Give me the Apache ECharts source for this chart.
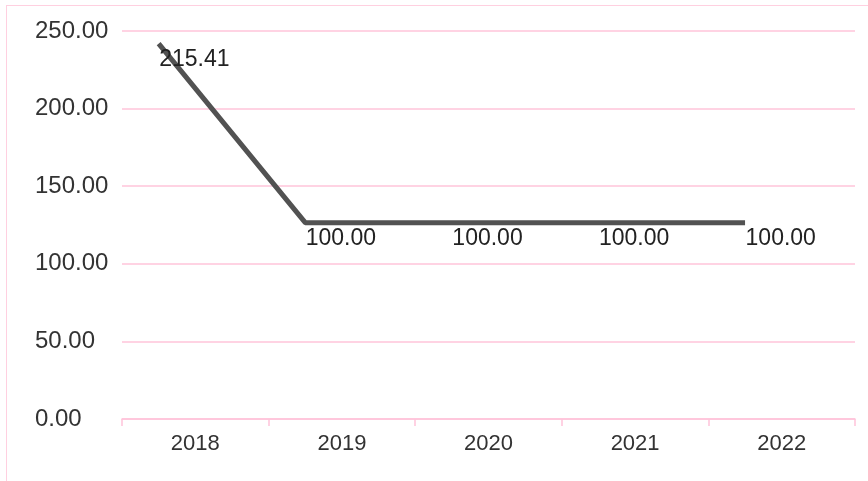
<!DOCTYPE html>
<html>
<head>
<meta charset="utf-8">
<script src="https://cdn.jsdelivr.net/npm/echarts@6/dist/echarts.min.js"></script>
<style>
html,body{margin:0;padding:0;background:#fff;}
#wrap{position:absolute;left:6px;top:5px;width:862px;height:476px;border-top:1px solid #ffd0e0;border-left:1px solid #ffd0e0;}
#chart{width:868px;height:481px;position:absolute;left:-7px;top:-6px;}
</style>
</head>
<body>
<div id="wrap"><div id="chart"></div></div>
<script>
const categories = ['2018', '2019', '2020', '2021', '2022'];
const values = [215.41, 100.00, 100.00, 100.00, 100.00];
const yTicks = { min: 0, max: 250, interval: 50 };

const pink = '#ffc4da';
const chart = echarts.init(document.getElementById('chart'), null, { renderer: 'canvas' });
chart.setOption({
  animation: false,
  grid: { left: 122, right: 13, top: 31, bottom: 62, containLabel: false },
  xAxis: [{
    type: 'category',
    data: categories,
    boundaryGap: true,
    axisLine: { lineStyle: { color: pink, width: 1.5 } },
    axisTick: { show: true, length: 7, lineStyle: { color: pink, width: 1.5 } },
    axisLabel: { color: '#333', fontSize: 22, fontFamily: 'Liberation Sans, Arial', margin: 14 }
  }, {
    type: 'value', min: -0.25, max: 4.75, show: false
  }],
  yAxis: [{
    type: 'value',
    min: yTicks.min, max: yTicks.max, interval: yTicks.interval,
    axisLine: { show: false },
    axisTick: { show: false },
    splitLine: { lineStyle: { color: pink, width: 1.5 } },
    axisLabel: { color: '#333', fontSize: 24, fontFamily: 'Liberation Sans, Arial', margin: 87,
      align: 'left', formatter: v => v.toFixed(2) }
  }, {
    type: 'value', min: -26.5, max: 223.5, show: false
  }],
  series: [{
    type: 'line',
    xAxisIndex: 1,
    yAxisIndex: 1,
    data: values.map((v, i) => [i, v]),
    symbol: 'circle',
    symbolSize: 1,
    itemStyle: { color: 'rgba(0,0,0,0)' },
    lineStyle: { color: '#525252', width: 5 },
    label: {
      show: true,
      position: [1, 5],
      align: 'left',
      verticalAlign: 'top',
      color: '#222',
      fontSize: 23,
      fontFamily: 'Liberation Sans, Arial',
      formatter: p => p.value[1].toFixed(2)
    }
  }]
});
</script>
</body>
</html>
